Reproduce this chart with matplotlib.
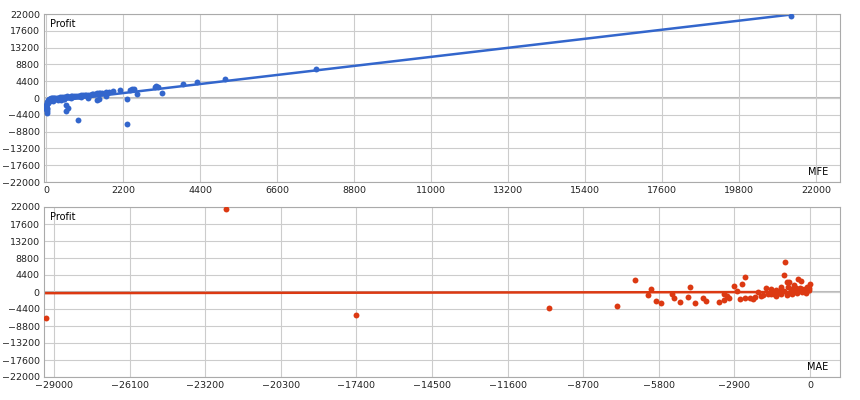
import numpy as np
import matplotlib.pyplot as plt

# MFE vs Profit (top)
mfe = [21300, 7700, 5100, 4300, 3900, 3300, 3200, 3100, 3150, 2600, 2500, 2450, 2400, 2300, 2100, 1900,
       1800, 1700, 1600, 1550, 1500, 1450, 1400, 1350, 1300, 1250, 1200, 1150, 1100, 1050, 1000, 950,
       900, 850, 800, 750, 700, 650, 600, 550, 500, 450, 400, 350, 300, 250, 200, 150, 100, 80, 60,
       40, 20, 10, 5, 30, 50, 70, 90, 120, 180, 240, 320, 420, 520, 620, 560, 580, 1500, 1450, 1700,
       2300, 900, 30, 15, 50, 120, 200, 350, 500, 700, 1000, 1200, 10, 20]
mfe_profit = [21500, 7600, 4900, 4200, 3700, 1300, 3000, 2900, 3100, 1000, 2400, 2300, 2200, -6800, 2000, 1800,
              1600, 1500, 1400, 1300, 1300, 1200, 1100, 1000, 1100, 900, 900, 800, 800, 700, 700, 600,
              600, 500, 500, 400, 500, 300, 400, 300, 300, 200, 200, 100, 100, 0, 0, -100, -200, -500, -800,
              -1000, -1500, -2000, -3000, -3500, -400, -300, -600, -200, -100, 0, -300, -400, -200, -2500, -1900, -3500, -300, -600, 500,
              -200, -5800, -4000, -2500, -1200, -900, -700, -500, -300, -100, 200, 100, -1800, -2800]

# MAE vs Profit (bottom)
mae = [-22400, -29300, -17400, -10000, -7400, -6700, -6100, -5900, -5200, -5300, -5700, -4600, -4100, -4000, -3500,
       -3300, -3100, -3200, -2900, -2800, -2600, -2500, -2300, -2200, -2100, -1900, -1800, -1700, -1600, -1500,
       -1400, -1300, -1200, -1100, -1000, -900, -800, -700, -600, -500, -400, -300, -200, -100, -50, -20,
       -1000, -800, -600, -450, -350, -1200, -1500, -2500, -3300, -4400, -4700, -6200, -5000, -2700,
       -950, -850, -750, -650, -550, -150, -250, -1300, -2000, -1100, -900, -700, -500, -300, -100, -60]
mae_profit = [21500, -6800, -6000, -4200, -3600, 3100, 900, -2300, -1500, -600, -2800, 1300, -1600, -2200, -2700,
              -400, -1500, -1000, 1500, 300, 2100, 3900, -1500, -1800, -1200, -1000, -800, 1000, -600, -500,
              -400, 500, -300, 1200, 300, 2500, -200, 300, 200, 500, 1100, 700, 900, 1400, 400, 2000,
              4400, 2600, 1900, 3300, 2800, 200, 700, -1500, -2000, -2800, -1200, -700, -2500, -1800,
              7700, 1400, 800, 600, 1000, -300, 300, -1000, 0, -500, -800, -400, -200, 100, 500, 1000]

BLUE = "#3366cc"
RED = "#dc3912"
yticks = np.arange(-22000, 22001, 4400)

fig = plt.figure(figsize=(8.6, 4), dpi=100)
ax1 = fig.add_axes([44/860, 1-182/400, 796/860, 168/400])
ax2 = fig.add_axes([44/860, 1-377/400, 796/860, 170/400])


def style(ax, xlim, xticks, label):
    ax.set_xlim(*xlim)
    ax.set_ylim(-22000, 22000)
    ax.set_xticks(xticks)
    ax.set_yticks(yticks)
    ax.tick_params(labelsize=6.8, length=0, pad=3, colors="#222222")
    ax.grid(True, color="#cccccc", lw=0.8)
    ax.set_axisbelow(True)
    ax.axhline(0, color="#bbbbbb", lw=1.5, zorder=0)
    for s in ax.spines.values():
        s.set_color("#aaaaaa")
    ax.text(0.008, 0.97, "Profit", transform=ax.transAxes, fontsize=7, va="top")
    ax.text(0.985, 0.03, label, transform=ax.transAxes, fontsize=7, ha="right", va="bottom")


style(ax1, (-60, 22686), np.arange(0, 22001, 2200), "MFE")
ax1.scatter(mfe, mfe_profit, s=18, color=BLUE, lw=0, zorder=3)
k1, b1 = np.polyfit(mfe, mfe_profit, 1)
ax1.plot([0, 21300], [b1, b1 + k1 * 21300], color=BLUE, lw=1.8, zorder=2)

style(ax2, (-29383, 1148), np.arange(-29000, 1, 2900), "MAE")
ax2.scatter(mae, mae_profit, s=18, color=RED, lw=0, zorder=3)
ax2.plot([-29300, 0], [-300, 0], color=RED, lw=1.8, zorder=2)

fig.savefig("out.png", dpi=100)
